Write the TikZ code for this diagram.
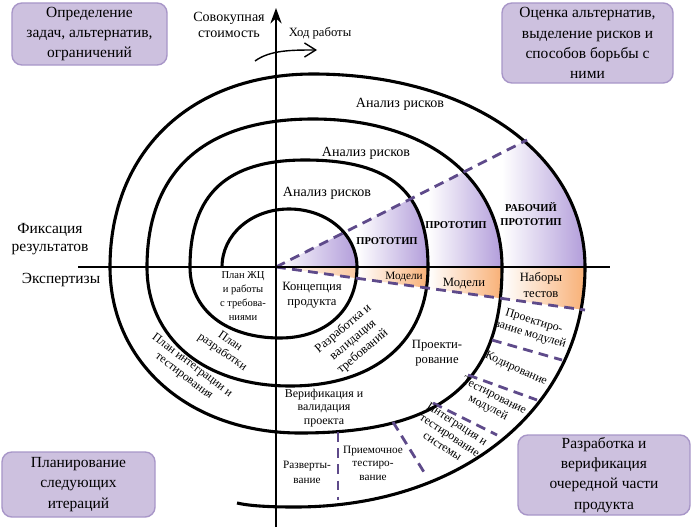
\documentclass[tikz,border=0pt]{standalone}
\usepackage{fontspec}
\setmainfont{Liberation Serif}
\usetikzlibrary{arrows.meta}

\definecolor{boxfill}{RGB}{205,193,223}
\definecolor{boxline}{RGB}{168,150,200}
\definecolor{prpl}{RGB}{178,157,218}
\definecolor{orng}{RGB}{248,176,118}
\definecolor{dashcol}{RGB}{94,74,138}

\begin{document}
\begin{tikzpicture}[x=0.25mm,y=-0.25mm,
    stagebox/.style={draw=boxline,fill=boxfill,line width=1pt,rounded corners=7pt,
        align=center,inner sep=1pt,font=\fontsize{11}{14.3}\selectfont},
    risk/.style={font=\fontsize{10}{11}\selectfont},
    proto/.style={font=\fontsize{7.5}{10}\selectfont\bfseries,align=center},
    phase/.style={font=\fontsize{8.5}{9.6}\selectfont,align=center,inner sep=0pt},
    sep/.style={dashcol,line width=2pt,dash pattern=on 7pt off 4.5pt}]
    \useasboundingbox (0,0) rectangle (691,531);

    % prototypes (upper sector)
    \begin{scope}
        \clip (276,267) -- (778,13) -- (778,267) -- cycle;
        \begin{scope}
            \clip (110,267) .. controls (110,151.2) and (191.2,74) .. (313,74)
                .. controls (470.8,74) and (585,155.1) .. (585,267) -- cycle;
            \shade[left color=white,right color=prpl] (502,0) rectangle (585,267);
        \end{scope}
        \begin{scope}
            \clip (147,267) .. controls (147,170.8) and (205.1,119) .. (313,119)
                .. controls (426.4,119) and (502,178.2) .. (502,267) -- cycle;
            \shade[left color=white,right color=prpl] (428,0) rectangle (502,267);
        \end{scope}
        \begin{scope}
            \clip (190,267) .. controls (190,194.2) and (226.8,160) .. (305,160)
                .. controls (391.1,160) and (428,192.1) .. (428,267) -- cycle;
            \shade[left color=white,right color=prpl] (357,0) rectangle (428,267);
        \end{scope}
        \begin{scope}
            \clip (222,267) .. controls (222,234.5) and (251.5,209) .. (289,209)
                .. controls (327.1,209) and (357,234.5) .. (357,267) -- cycle;
            \shade[left color=white,right color=prpl] (276,0) rectangle (357,267);
        \end{scope}
    \end{scope}

    % models (lower sector)
    \begin{scope}
        \clip (276,267) -- (894,353) -- (894,267) -- cycle;
        \begin{scope}
            \clip (276,267) -- (585,267) .. controls (585,406.2) and (463.2,507) .. (295,507) -- cycle;
            \shade[left color=white,right color=orng] (502,267) rectangle (585,400);
        \end{scope}
        \begin{scope}
            \clip (276,267) -- (502,267) .. controls (502,383.2) and (441.4,433) .. (300,433) -- cycle;
            \shade[left color=white,right color=orng] (428,267) rectangle (502,400);
        \end{scope}
        \begin{scope}
            \clip (276,267) -- (428,267) .. controls (428,340.8) and (375.6,386) .. (290,386) -- cycle;
            \shade[left color=white,right color=orng] (357,267) rectangle (428,400);
        \end{scope}
        \begin{scope}
            \clip (276,267) -- (357,267) .. controls (357,309.6) and (326.2,338) .. (280,338) -- cycle;
            \shade[left color=white,right color=orng!70] (276,267) rectangle (357,400);
        \end{scope}
    \end{scope}

    % spiral
    \draw[line width=2.2pt]
        (222,267) .. controls (222,234.5) and (251.5,209) .. (289,209)
        .. controls (327.1,209) and (357,234.5) .. (357,267)
        .. controls (357,309.6) and (326.2,338) .. (280,338)
        .. controls (226,338) and (190,309.6) .. (190,267)
        .. controls (190,194.2) and (226.8,160) .. (305,160)
        .. controls (391.1,160) and (428,192.1) .. (428,267)
        .. controls (428,340.8) and (375.6,386) .. (290,386)
        .. controls (204.2,386) and (147,338.4) .. (147,267)
        .. controls (147,170.8) and (205.1,119) .. (313,119)
        .. controls (426.4,119) and (502,178.2) .. (502,267)
        .. controls (502,383.2) and (441.4,433) .. (300,433)
        .. controls (189.8,433) and (110,363.3) .. (110,267)
        .. controls (110,151.2) and (191.2,74) .. (313,74)
        .. controls (470.8,74) and (585,155.1) .. (585,267)
        .. controls (585,406.2) and (463.2,507) .. (295,507)
        .. controls (270,507) and (250,506) .. (237,503);

    % sector borders
    \draw[sep] (276,267) -- (527,140);
    \draw[sep] (276,267) -- (585,310);
    \draw[sep] (492,340) -- (562,360);
    \draw[sep] (468,375) -- (537,400);
    \draw[sep] (433,403) -- (497,435);
    \draw[sep] (393,422) -- (427,477);
    \draw[sep] (338,432) -- (338,500);

    % axes
    \draw[line width=1.3pt] (78,267) -- (610,267);
    \draw[line width=1.5pt,-{Stealth[length=11pt,width=8pt]}] (276,527) -- (276,8);
    \coordinate (flowA) at (255,61);
    \coordinate (flowB) at (317,50);
    \draw[line width=1pt,-{Straight Barb[length=8pt,width=10pt]}]
        (flowA) .. controls (270,50) and (292,50) .. (flowB);
    \node[align=center,font=\fontsize{10}{11.4}\selectfont] (cost) at (229,25) {Совокупная\\стоимость};
    \node[font=\fontsize{9}{11}\selectfont] (flow) at (320,33) {Ход работы};

    % quadrant boxes
    \node[stagebox,minimum width=38.75mm,minimum height=15.5mm] (goals) at (89.5,34)
        {Определение\\задач, альтернатив,\\ограничений};
    \node[stagebox,minimum width=42.75mm,minimum height=20mm] (risks) at (587.5,43)
        {Оценка альтернатив,\\выделение рисков и\\способов борьбы с\\ними};
    \node[stagebox,minimum width=38.25mm,minimum height=16.25mm] (plan) at (78.5,484.5)
        {Планирование\\следующих\\итераций};
    \node[stagebox,minimum width=43mm,minimum height=20mm] (dev) at (604,475)
        {Разработка и\\верификация\\очередной части\\продукта};

    % left labels
    \node[align=center,font=\fontsize{11}{12.8}\selectfont] (fix) at (50,239) {Фиксация\\результатов};
    \node[font=\fontsize{11}{12.8}\selectfont] (expert) at (61,280) {Экспертизы};

    % risk analysis
    \node[risk] (risk3) at (400,104) {Анализ рисков};
    \node[risk] (risk2) at (366,153) {Анализ рисков};
    \node[risk] (risk1) at (327,193) {Анализ рисков};

    % prototypes and models
    \node[proto] (proto1) at (387,241) {ПРОТОТИП};
    \node[proto] (proto2) at (456,225) {ПРОТОТИП};
    \node[proto] (proto3) at (531,214) {РАБОЧИЙ\\ПРОТОТИП};
    \node[font=\fontsize{8}{9}\selectfont] (model1) at (404,277) {Модели};
    \node[font=\fontsize{9}{11}\selectfont] (model2) at (464,284) {Модели};
    \node[align=center,font=\fontsize{9}{11.4}\selectfont] (tests) at (541,285) {Наборы\\тестов};

    % stages
    \node[phase,font=\fontsize{7.5}{10}\selectfont] (lcplan) at (243,296) {План ЖЦ\\и работы\\с требова-\\ниями};
    \node[phase,font=\fontsize{9}{10.7}\selectfont] (concept) at (312,295) {Концепция\\продукта};
    \node[phase,rotate=-35] (devplan) at (226,347) {План\\разработки};
    \node[phase,rotate=-37] (intplan) at (188,371) {План интеграции и\\тестирования};
    \node[phase,rotate=40,font=\fontsize{9}{10.7}\selectfont] (reqs) at (353,340) {Разработка и\\валидация\\требований};
    \node[phase,font=\fontsize{9}{10.7}\selectfont] (design) at (437,353) {Проекти-\\рование};
    \node[phase] (verif) at (324,408) {Верификация и\\валидация\\проекта};
    \node[phase,font=\fontsize{8}{10.7}\selectfont] (deploy) at (307,472) {Разверты-\\вание};
    \node[phase,font=\fontsize{8}{9.6}\selectfont] (accept) at (373,463) {Приемочное\\тестиро-\\вание};
    \node[phase,rotate=-33] (sysint) at (450,435) {Интеграция и\\тестирование\\системы};
    \node[phase,rotate=-27] (unittest) at (491,402) {Тестирование\\модулей};
    \node[phase,rotate=-24] (coding) at (516,369) {Кодирование};
    \node[phase,rotate=-17] (moddesign) at (532,328) {Проектиро-\\вание модулей};
\end{tikzpicture}
\end{document}
